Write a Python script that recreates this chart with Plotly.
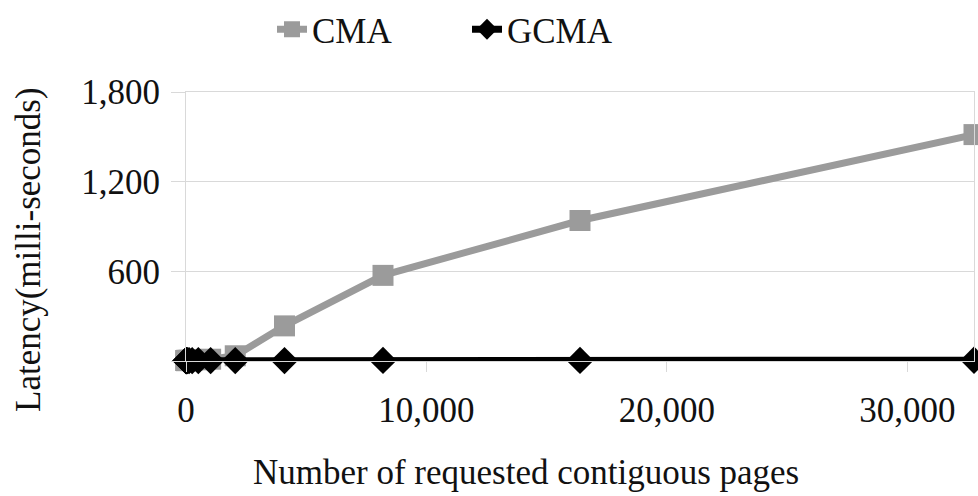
import plotly.graph_objects as go

# Requested contiguous pages (powers of two) and allocation latency in ms
pages = [1, 2, 4, 8, 16, 32, 64, 128, 256, 512, 1024, 2048, 4096, 8192, 16384, 32768]
cma_latency = [3, 3, 3, 3, 4, 4, 4, 5, 6, 8, 12, 35, 235, 573, 940, 1515]
gcma_latency = [2, 2, 2, 2, 2, 2, 2, 2, 2, 3, 3, 3, 3, 4, 4, 5]

y_ticks = [0, 600, 1200, 1800]
y_tick_text = ["", "600", "1,200", "1,800"]
x_ticks = [0, 10000, 20000, 30000]
x_tick_text = ["0", "10,000", "20,000", "30,000"]

FONT = "Liberation Serif"
GREY = "#9b9b9b"
SIZE = 35

fig = go.Figure()
fig.add_trace(go.Scatter(
    x=pages, y=cma_latency, name="CMA", mode="lines+markers",
    line=dict(color=GREY, width=7),
    marker=dict(symbol="square", size=21, color=GREY),
    cliponaxis=False,
))
fig.add_trace(go.Scatter(
    x=pages, y=gcma_latency, name="GCMA", mode="lines+markers",
    line=dict(color="#000000", width=7),
    marker=dict(symbol="diamond", size=21, color="#000000"),
    cliponaxis=False,
))

fig.update_layout(
    width=978, height=496,
    margin=dict(l=186, r=4, t=92, b=135),
    plot_bgcolor="white", paper_bgcolor="white",
    font=dict(family=FONT, size=SIZE, color="#111111"),
    showlegend=True,
    legend=dict(orientation="h", x=(272 - 186) / 788, xref="paper", xanchor="left",
                y=1.0, yref="container", yanchor="top",
                font=dict(family=FONT, size=SIZE), entrywidth=150,
                entrywidthmode="pixels", traceorder="normal"),
    xaxis=dict(range=[0, 32768], tickvals=x_ticks, ticktext=x_tick_text,
               showgrid=False, zeroline=False,
               showline=True, linecolor="#d9d9d9", linewidth=1, mirror=True,
               ticks="outside", ticklen=10, tickcolor="#d9d9d9",
               ticklabelstandoff=8, tickfont=dict(size=SIZE)),
    yaxis=dict(range=[0, 1800], tickvals=y_ticks, ticktext=y_tick_text,
               showgrid=True, gridcolor="#d9d9d9", gridwidth=1, zeroline=False,
               showline=True, linecolor="#d9d9d9", linewidth=1, mirror=True,
               ticks="outside", ticklen=14, tickcolor="#d9d9d9",
               ticklabelstandoff=4, tickfont=dict(size=SIZE)),
    annotations=[
        dict(text="Number of requested contiguous pages", xref="paper", yref="paper",
             x=(526 - 186) / 788, y=-(472 - 361) / 269, xanchor="center", yanchor="middle",
             showarrow=False, font=dict(family=FONT, size=SIZE)),
        dict(text="Latency(milli-seconds)", xref="paper", yref="paper",
             x=-(186 - 28) / 788, y=(361 - 250) / 269, xanchor="center", yanchor="middle",
             textangle=-90, showarrow=False, font=dict(family=FONT, size=SIZE)),
    ],
)

fig.write_html("out.html")
